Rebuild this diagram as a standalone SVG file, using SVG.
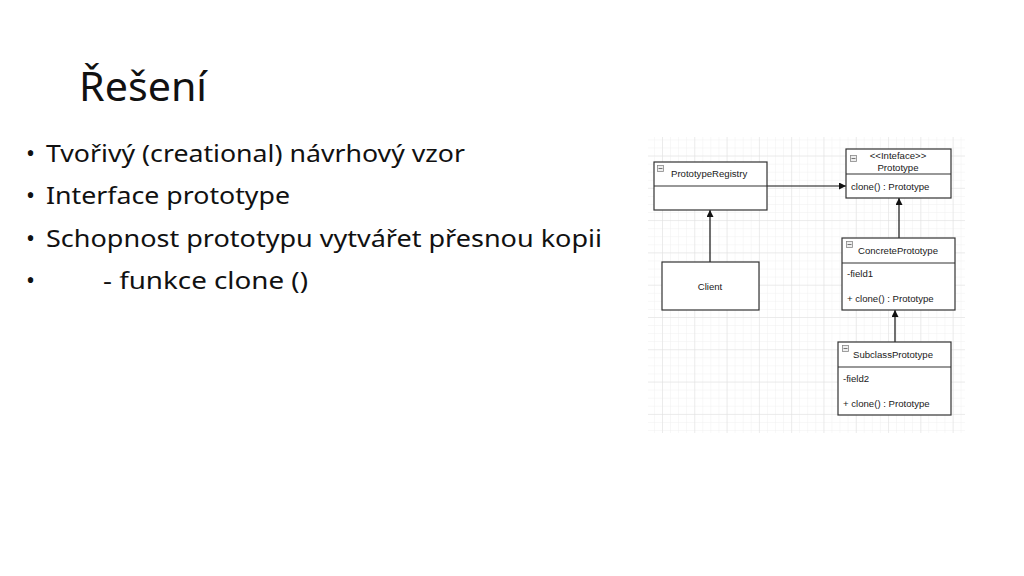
<svg xmlns="http://www.w3.org/2000/svg" width="1024" height="576" viewBox="0 0 1024 576">
<style>
.t{font-family:"Noto Sans","Liberation Sans",sans-serif;fill:#111}
.b{font-size:24px}
.u{font-family:"Liberation Sans",Arial,sans-serif;font-size:9.6px;fill:#1a1a1a}
.box{fill:#fff;stroke:#333;stroke-width:1.2}
.div{stroke:#333;stroke-width:1.2}
.ic{fill:#eee;stroke:#888;stroke-width:0.8}
.icl{stroke:#666;stroke-width:0.9}
.c{stroke:#111;stroke-width:1.2;fill:none;marker-end:url(#ah)}
</style>
<defs>
<pattern id="minor" patternUnits="userSpaceOnUse" x="662" y="317" width="8.07" height="8.07">
<path d="M0 0H8.07M0 0V8.07" stroke="#f0f0f0" stroke-width="1" fill="none"/>
</pattern>
<pattern id="major" patternUnits="userSpaceOnUse" x="662" y="317" width="32.3" height="32.3">
<path d="M0 0H32.3M0 0V32.3" stroke="#e0e0e0" stroke-width="1" fill="none"/>
</pattern>
<marker id="ah" viewBox="0 0 10 10" refX="10" refY="5" markerWidth="7" markerHeight="7" markerUnits="userSpaceOnUse" orient="auto">
<path d="M0 0L10 5L0 10z" fill="#111"/>
</marker>
</defs>
<rect width="1024" height="576" fill="#fff"/>

<g id="title">
<text class="t" x="79" y="101" font-size="40" textLength="128" lengthAdjust="spacingAndGlyphs">Řešení</text>
</g>
<g id="bullets">
<text class="t b" x="26" y="162">•</text>
<text class="t b" x="46" y="162" textLength="419" lengthAdjust="spacingAndGlyphs">Tvořivý (creational) návrhový vzor</text>
<text class="t b" x="26" y="204">•</text>
<text class="t b" x="46" y="204" textLength="244" lengthAdjust="spacingAndGlyphs">Interface prototype</text>
<text class="t b" x="26" y="247">•</text>
<text class="t b" x="46" y="247" textLength="556" lengthAdjust="spacingAndGlyphs">Schopnost prototypu vytvářet přesnou kopii</text>
<text class="t b" x="26" y="289">•</text>
<text class="t b" x="103" y="289" textLength="205" lengthAdjust="spacingAndGlyphs">- funkce clone ()</text>
</g>

<g id="grid">
<rect x="648" y="137" width="317" height="296" fill="url(#minor)"/>
<rect x="648" y="137" width="317" height="296" fill="url(#major)"/>
</g>

<g id="connectors">
<line class="c" x1="767" y1="186" x2="846" y2="186"/>
<line class="c" x1="710" y1="262" x2="710" y2="210"/>
<line class="c" x1="899" y1="238" x2="899" y2="198"/>
<line class="c" x1="895" y1="342" x2="895" y2="310"/>
</g>

<g id="PrototypeRegistry">
<rect class="box" x="654" y="162" width="113" height="48"/>
<line class="div" x1="654" y1="186" x2="767" y2="186"/>
<rect class="ic" x="657.5" y="165.5" width="6" height="6"/>
<line class="icl" x1="658.5" y1="168.5" x2="662.5" y2="168.5"/>
<text class="u" x="671" y="177">PrototypeRegistry</text>
</g>

<g id="Prototype">
<rect class="box" x="846" y="149" width="105" height="49"/>
<line class="div" x1="846" y1="174" x2="951" y2="174"/>
<rect class="ic" x="850.5" y="155.5" width="6" height="6"/>
<line class="icl" x1="851.5" y1="158.5" x2="855.5" y2="158.5"/>
<text class="u" x="898" y="159" text-anchor="middle">&lt;&lt;Inteface&gt;&gt;</text>
<text class="u" x="898" y="171" text-anchor="middle">Prototype</text>
<text class="u" x="851" y="190">clone() : Prototype</text>
</g>

<g id="Client">
<rect class="box" x="662" y="262" width="97" height="48"/>
<text class="u" x="710" y="290" text-anchor="middle">Client</text>
</g>

<g id="ConcretePrototype">
<rect class="box" x="842" y="238" width="113" height="72"/>
<line class="div" x1="842" y1="263" x2="955" y2="263"/>
<rect class="ic" x="846.5" y="241.5" width="6" height="6"/>
<line class="icl" x1="847.5" y1="244.5" x2="851.5" y2="244.5"/>
<text class="u" x="858" y="254">ConcretePrototype</text>
<text class="u" x="847" y="277">-field1</text>
<text class="u" x="847" y="302">+ clone() : Prototype</text>
</g>

<g id="SubclassPrototype">
<rect class="box" x="838" y="342" width="113" height="73"/>
<line class="div" x1="838" y1="367" x2="951" y2="367"/>
<rect class="ic" x="842.5" y="345.5" width="6" height="6"/>
<line class="icl" x1="843.5" y1="348.5" x2="847.5" y2="348.5"/>
<text class="u" x="853" y="358">SubclassPrototype</text>
<text class="u" x="843" y="382">-field2</text>
<text class="u" x="843" y="407">+ clone() : Prototype</text>
</g>
</svg>
